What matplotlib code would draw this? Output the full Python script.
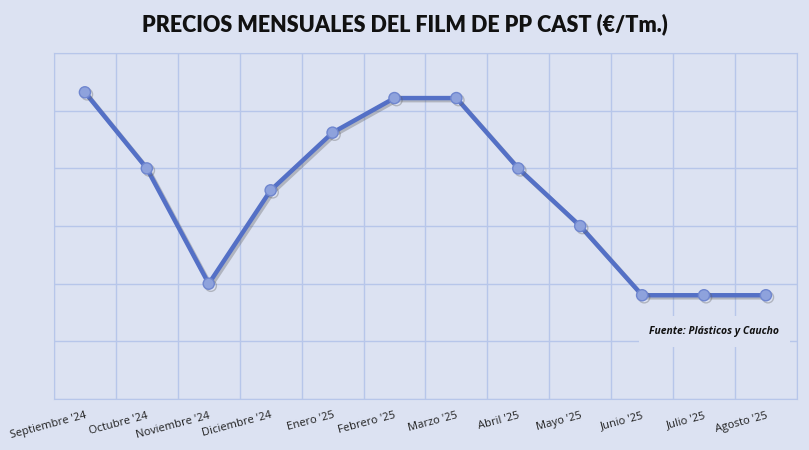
import numpy as np
import matplotlib.pyplot as plt
import matplotlib.patheffects as pe

meses = ["Septiembre '24", "Octubre '24", "Noviembre '24", "Diciembre '24",
         "Enero '25", "Febrero '25", "Marzo '25", "Abril '25", "Mayo '25",
         "Junio '25", "Julio '25", "Agosto '25"]
# precios (eje sin etiquetas, escala relativa)
precios = [1566, 1500, 1400, 1481, 1531, 1561, 1561, 1500, 1450, 1390, 1390, 1390]
y_min, y_max, y_paso = 1300, 1600, 50

bg = '#dce2f2'
grid_c = '#b7c6ea'

fig = plt.figure(figsize=(8.09, 4.5), dpi=100, facecolor=bg)
ax = fig.add_axes([0.0667, 0.1133, 0.9183, 0.7687])
ax.set_facecolor(bg)

x = np.arange(len(meses))
ax.plot(x, precios, color='#5470c6', lw=3.2, marker='o', ms=8,
        mfc='#8ea2dc', mec='#6f86cf', mew=1, zorder=3, solid_capstyle='round',
        path_effects=[pe.SimpleLineShadow(offset=(1.5, -1.5), shadow_color='#606060', alpha=0.35),
                      pe.Normal()])

ax.set_xlim(-0.5, len(meses) - 0.5)
ax.set_ylim(y_min, y_max)
ax.set_yticks(np.arange(y_min, y_max + 1, y_paso))
ax.set_yticklabels([])
ax.set_xticks(np.arange(-0.5, len(meses), 1.0))
ax.set_xticklabels([])
ax.set_xticks(x, minor=True)
ax.set_xticklabels(meses, minor=True, rotation=15, ha='right', rotation_mode='anchor',
                   fontsize=8, family='Open Sans', color='#202020')
ax.tick_params(axis='both', which='both', length=0)
ax.tick_params(axis='x', which='minor', pad=8)
ax.grid(True, which='major', color=grid_c, lw=1)
for s in ax.spines.values():
    s.set_color(grid_c)

ax.text(0.889, 0.195, 'Fuente: Plásticos y Caucho', transform=ax.transAxes,
        ha='center', va='center', fontsize=7.5, fontweight='bold', fontstyle='italic',
        family='Open Sans', color='#111111', zorder=4,
        bbox=dict(boxstyle='square,pad=1.0', fc=bg, ec='none'))

fig.text(0.5, 0.945, 'PRECIOS MENSUALES DEL FILM DE PP CAST (€/Tm.)', ha='center', va='center',
         fontsize=15.5, fontweight='heavy', family='Lato', color='#111111')

fig.savefig('out.png', dpi=100, facecolor=bg)
